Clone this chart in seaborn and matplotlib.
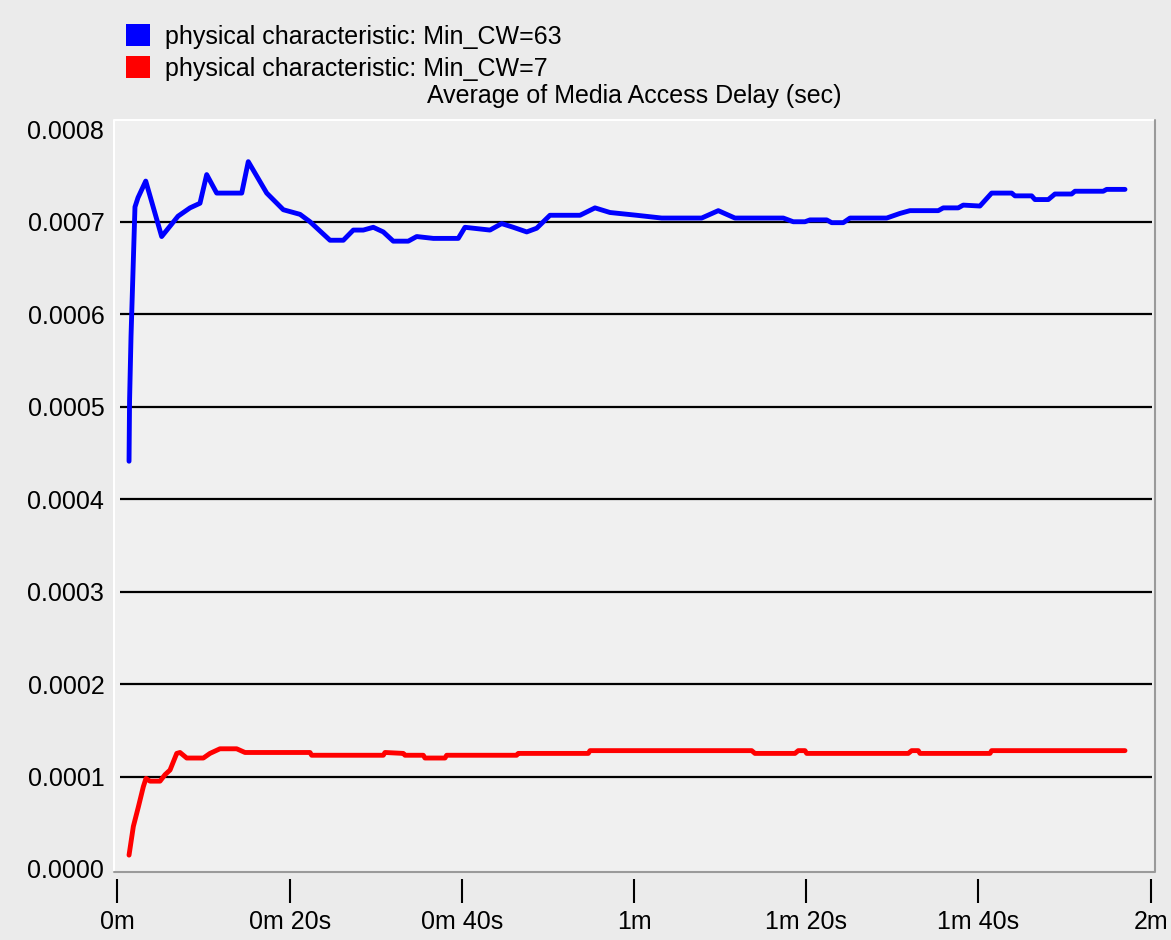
import numpy as np
import pandas as pd
import matplotlib
matplotlib.use("Agg")
import matplotlib.pyplot as plt
from matplotlib.patches import Patch
import seaborn as sns

# Average media access delay over simulation time (seconds, delay in seconds)
cw63_time = [1.34, 1.40, 1.57, 1.80, 2.03, 2.38, 3.28, 5.13, 7.03, 8.42, 9.58, 10.36,
             11.52, 14.43, 15.19, 17.33, 19.26, 21.20, 22.36, 24.68, 26.23, 27.39,
             28.55, 29.71, 30.87, 32.03, 33.77, 34.75, 36.68, 39.58, 40.36, 43.26,
             44.62, 45.97, 47.53, 48.69, 50.23, 53.72, 55.46, 57.20, 60.30, 63.21,
             67.85, 69.78, 71.72, 77.33, 78.49, 79.85, 80.43, 82.37, 82.95, 84.30,
             85.08, 89.34, 90.88, 92.04, 95.33, 95.91, 97.65, 98.23, 100.17, 101.53,
             103.86, 104.24, 106.18, 106.56, 108.11, 108.88, 110.82, 111.21, 114.49,
             114.89, 117.02]
cw63_delay = [0.000441, 0.000506, 0.000576, 0.000646, 0.000716, 0.000726, 0.000744,
              0.000684, 0.000706, 0.000715, 0.000720, 0.000751, 0.000731, 0.000731,
              0.000765, 0.000731, 0.000713, 0.000708, 0.000700, 0.000680, 0.000680,
              0.000691, 0.000691, 0.000694, 0.000689, 0.000679, 0.000679, 0.000684,
              0.000682, 0.000682, 0.000694, 0.000691, 0.000698, 0.000694, 0.000689,
              0.000693, 0.000707, 0.000707, 0.000715, 0.000710, 0.000707, 0.000704,
              0.000704, 0.000712, 0.000704, 0.000704, 0.000700, 0.000700, 0.000702,
              0.000702, 0.000699, 0.000699, 0.000704, 0.000704, 0.000709, 0.000712,
              0.000712, 0.000715, 0.000715, 0.000718, 0.000717, 0.000731, 0.000731,
              0.000728, 0.000728, 0.000724, 0.000724, 0.000730, 0.000730, 0.000733,
              0.000733, 0.000735, 0.000735]

cw7_time = [1.34, 1.84, 2.42, 3.00, 3.31, 3.77, 4.94, 5.52, 6.10, 6.88, 7.26, 8.04,
            9.97, 10.74, 11.90, 13.84, 14.81, 22.36, 22.55, 30.87, 31.07, 33.19,
            33.39, 35.52, 35.71, 38.04, 38.23, 46.36, 46.55, 54.68, 54.88, 73.66,
            74.04, 78.69, 79.07, 79.85, 80.05, 91.85, 92.24, 93.01, 93.21, 101.34,
            101.53, 117.02]
cw7_delay = [0.0000150, 0.0000460, 0.0000670, 0.0000890, 0.0000980, 0.0000950,
             0.0000950, 0.0001020, 0.0001070, 0.0001250, 0.0001260, 0.0001200,
             0.0001200, 0.0001250, 0.0001300, 0.0001300, 0.0001260, 0.0001260,
             0.0001230, 0.0001230, 0.0001260, 0.0001250, 0.0001230, 0.0001230,
             0.0001200, 0.0001200, 0.0001230, 0.0001230, 0.0001250, 0.0001250,
             0.0001280, 0.0001280, 0.0001250, 0.0001250, 0.0001280, 0.0001280,
             0.0001250, 0.0001250, 0.0001280, 0.0001280, 0.0001250, 0.0001250,
             0.0001280, 0.0001280]

series_labels = ["physical characteristic: Min_CW=63", "physical characteristic: Min_CW=7"]
series_colors = ["#0000ff", "#ff0000"]

y_ticks = [0.0, 0.0001, 0.0002, 0.0003, 0.0004, 0.0005, 0.0006, 0.0007, 0.0008]
grid_levels = [0.0001, 0.0002, 0.0003, 0.0004, 0.0005, 0.0006, 0.0007]
x_ticks = [0, 20, 40, 60, 80, 100, 120]
x_tick_labels = ["0m", "0m 20s", "0m 40s", "1m", "1m 20s", "1m 40s", "2m"]
title = "Average of Media Access Delay (sec)"

df = pd.concat([
    pd.DataFrame({"time": cw63_time, "delay": cw63_delay, "series": series_labels[0]}),
    pd.DataFrame({"time": cw7_time, "delay": cw7_delay, "series": series_labels[1]}),
], ignore_index=True)

sns.set_theme(style="white")
plt.rcParams["font.family"] = ["Liberation Sans", "DejaVu Sans"]
plt.rcParams["text.color"] = "black"

fig_bg = "#ebebeb"
ax_bg = "#f0f0f0"
fs = 18
fig = plt.figure(figsize=(11.71, 9.40), dpi=100, facecolor=fig_bg)
ax = fig.add_axes([0.0974, 0.0723, 0.8889, 0.8000], facecolor=ax_bg)

# horizontal reference lines
ax.hlines(grid_levels, 0.3, 120.1, color="black", linewidth=1.6, zorder=1)

sns.lineplot(data=df, x="time", y="delay", hue="series",
             palette=dict(zip(series_labels, series_colors)),
             linewidth=3.5, legend=False, ax=ax, zorder=3, estimator=None, sort=False)

ax.set_xlim(-0.4, 120.5)
ax.set_ylim(-0.0000033, 0.00081)
ax.set_xticks(x_ticks)
ax.set_xticklabels(x_tick_labels)
ax.set_yticks(y_ticks)
ax.set_yticklabels([f"{v:.4f}" for v in y_ticks])
ax.set_xlabel("")
ax.set_ylabel("")

for s in ["top", "left", "right"]:
    ax.spines[s].set_visible(False)
ax.spines["bottom"].set_position(("outward", 5))
ax.spines["bottom"].set_visible(False)

ax.tick_params(axis="x", direction="out", length=17, width=1.5, color="black",
               pad=5, labelsize=fs, bottom=True, labelcolor="black")
ax.tick_params(axis="y", length=0, pad=7, labelsize=fs, left=False, labelcolor="black")

# plot frame: light top/left edge, grey bottom/right edge
ax.plot([0, 0, 1], [0, 1, 1], transform=ax.transAxes, color="white",
        linewidth=1.5, clip_on=False, zorder=4)
ax.plot([0, 1, 1], [0, 0, 1], transform=ax.transAxes, color="#9a9a9a",
        linewidth=1.5, clip_on=False, zorder=4)

ax.set_title(title, fontsize=fs, color="black", pad=12)

handles = [Patch(facecolor=c, edgecolor="none") for c in series_colors]
leg = fig.legend(handles, series_labels, loc="upper left", bbox_to_anchor=(0.108, 0.974),
                 frameon=False, fontsize=fs, handlelength=0.95, handleheight=0.95,
                 handletextpad=0.6, labelspacing=0.3, borderaxespad=0, borderpad=0)
for t in leg.get_texts():
    t.set_color("black")

fig.savefig("out.png", dpi=100, facecolor=fig_bg)
